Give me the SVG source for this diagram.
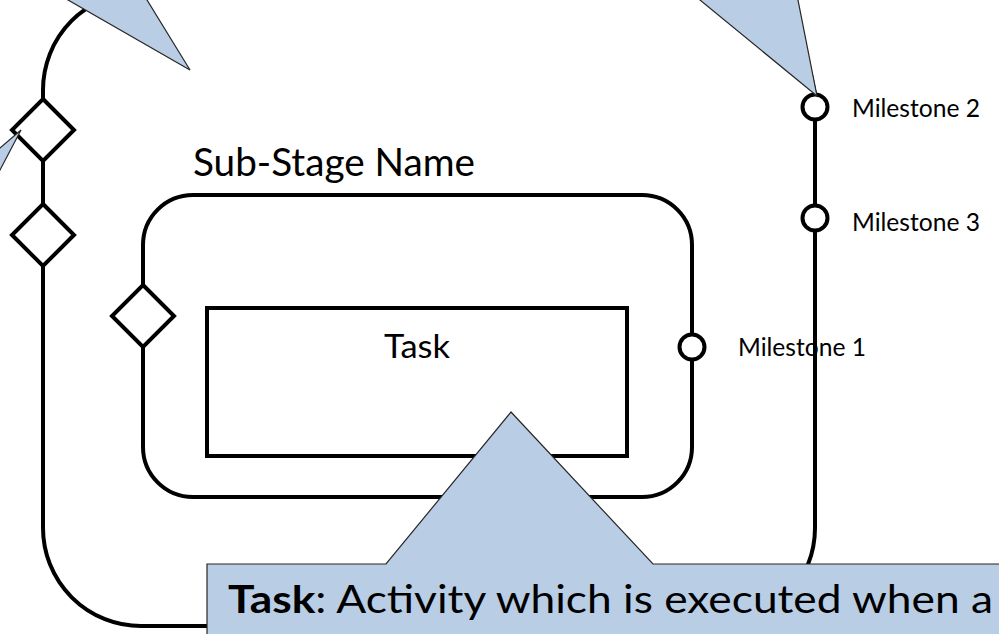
<svg xmlns="http://www.w3.org/2000/svg" width="999" height="634" viewBox="0 0 999 634">
  <style>
    .edge { fill: none; stroke: #000; stroke-width: 4; }
    .shape { fill: #fff; stroke: #000; stroke-width: 4; }
    .label { font-family: Lato, "Liberation Sans", sans-serif; fill: #000; }
    .callout { fill: #b9cde5; stroke: #262626; stroke-width: 1.2; stroke-linejoin: miter; }
  </style>
  <defs>
    <polygon id="gateway" points="0,-31 31,0 0,31 -31,0"/>
    <circle id="milestone" r="12.5"/>
  </defs>

  <rect width="999" height="634" fill="#fff"/>

  <!-- outer stage boundary -->
  <g id="stage">
    <path class="edge" d="M141,-8 H740 Q796,-8 815,94 V528 A98,98 0 0 1 717,626 H141 A98,98 0 0 1 43,528 V90 A98,98 0 0 1 141,-8 Z"/>
  </g>

  <!-- sub-stage boundary with its title -->
  <g id="sub-stage">
    <rect class="edge" x="143" y="195" width="549" height="302" rx="50" ry="50"/>
    <text class="label" x="193" y="176" font-size="38" textLength="282" lengthAdjust="spacingAndGlyphs">Sub-Stage Name</text>
  </g>

  <!-- task -->
  <g id="task">
    <rect class="shape" x="207" y="308" width="420" height="148"/>
    <text class="label" x="417" y="358" font-size="32" text-anchor="middle" textLength="66" lengthAdjust="spacingAndGlyphs">Task</text>
  </g>

  <!-- entry gateways -->
  <g id="gateway-1"><use href="#gateway" class="shape" x="43" y="130"/></g>
  <g id="gateway-2"><use href="#gateway" class="shape" x="43" y="235"/></g>
  <g id="gateway-3"><use href="#gateway" class="shape" x="143" y="316"/></g>

  <!-- milestones -->
  <g id="milestone-1">
    <use href="#milestone" class="shape" x="692" y="347"/>
    <text class="label" x="738" y="356" font-size="25" textLength="128" lengthAdjust="spacingAndGlyphs">Milestone 1</text>
  </g>
  <g id="milestone-2">
    <use href="#milestone" class="shape" x="815" y="107"/>
    <text class="label" x="852" y="117" font-size="25" textLength="128" lengthAdjust="spacingAndGlyphs">Milestone 2</text>
  </g>
  <g id="milestone-3">
    <use href="#milestone" class="shape" x="815" y="218"/>
    <text class="label" x="852" y="231" font-size="25" textLength="128" lengthAdjust="spacingAndGlyphs">Milestone 3</text>
  </g>

  <g id="connectors"/>

  <!-- callouts -->
  <g id="callouts">
    <polygon class="callout" points="50.6,-10 190,70 140.9,-10"/>
    <polygon class="callout" points="21,130 -10,156.6 -10,189"/>
    <polygon class="callout" points="687.8,-10 817,96 796,-10"/>
    <g id="callout-task">
      <path class="callout" d="M207,564 H386 L511,412 L653,564 H1010 V650 H207 Z"/>
      <text class="label" x="228" y="613" font-size="38" textLength="765" lengthAdjust="spacingAndGlyphs"><tspan font-weight="bold">Task</tspan>: Activity which is executed when a</text>
    </g>
  </g>
</svg>
